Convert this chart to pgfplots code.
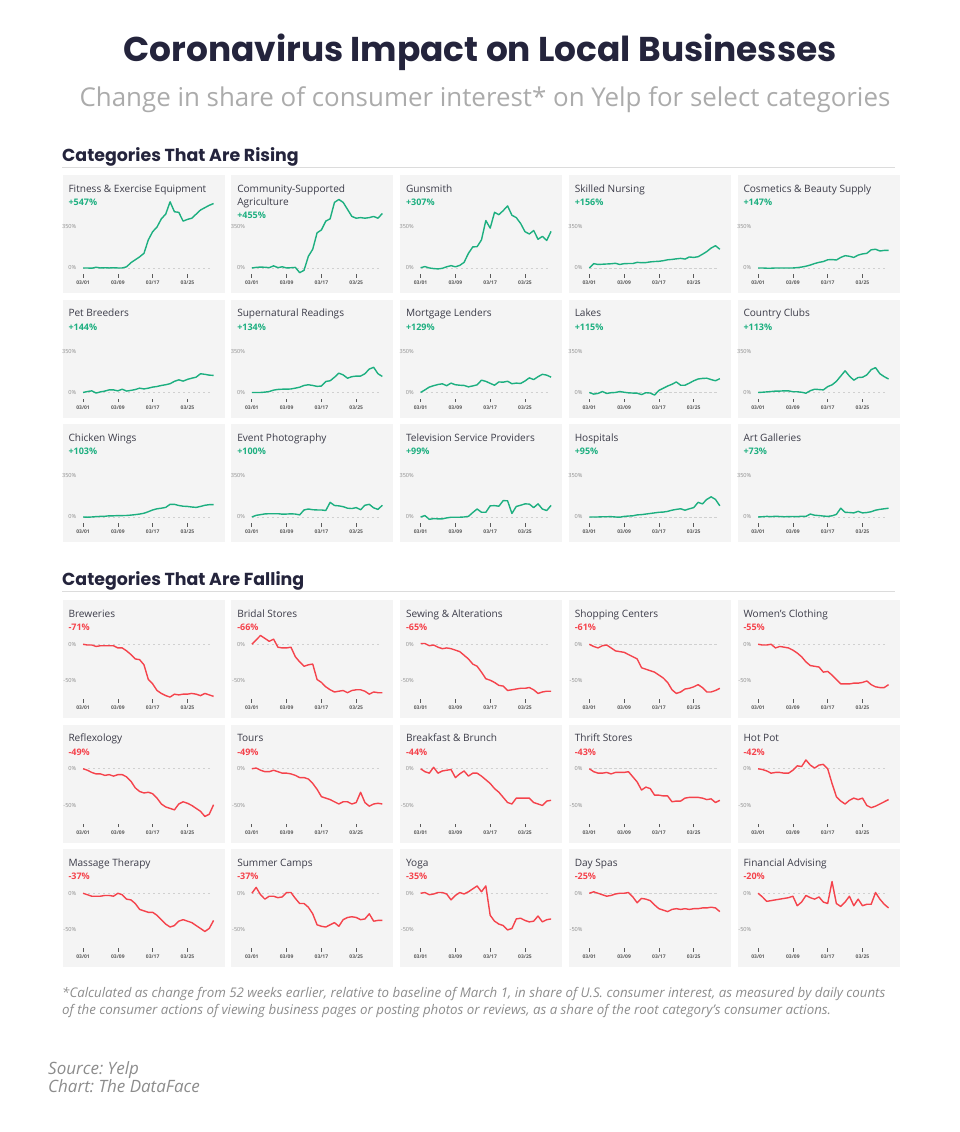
\documentclass[border=0pt]{standalone}
\usepackage{pgfplots}
\pgfplotsset{compat=1.18}
\usepackage{fontspec}
\setmainfont{Open Sans}
\newfontfamily\pop{Poppins}
\frenchspacing

\definecolor{risecol}{HTML}{1DAF80}
\definecolor{fallcol}{HTML}{F4434C}
\definecolor{cardbg}{HTML}{F4F4F4}
\definecolor{navy}{HTML}{24243C}
\definecolor{subgray}{HTML}{ABABAB}
\definecolor{rulegray}{HTML}{DCDCDC}
\definecolor{ptitle}{HTML}{3B3B48}
\definecolor{tickcol}{HTML}{5A5A5A}
\definecolor{ylabcol}{HTML}{8E8E8E}
\definecolor{zerocol}{HTML}{D0D0D0}
\definecolor{notecol}{HTML}{8C8C8C}

% one small panel: days 0..30 = 03/01..03/31
\pgfplotsset{
  spark/.style={
    scale only axis, width=134.85pt, xmin=-0.5, xmax=30.5,
    enlargelimits=false, clip=false, anchor=south west,
    axis x line*=bottom, axis y line*=left,
    x axis line style={draw=none}, y axis line style={draw=none},
    xtick={0,8,16,24}, xticklabels={03/01,03/09,03/17,03/25},
    tick align=outside, major tick length=3.4pt,
    xtick style={draw=tickcol, line width=0.7pt},
    ytick style={draw=none},
    xticklabel style={font=\fontsize{5}{5}\selectfont\bfseries, text=tickcol,
      inner sep=0pt, anchor=north, yshift=-3pt},
    yticklabel style={font=\fontsize{5.6}{5.6}\selectfont, text=ylabcol,
      inner sep=1pt, anchor=east},
  },
  rise/.style={spark, ymin=-54, ymax=600, height=76.6pt,
    ytick={0,350}, yticklabels={0\%,350\%}},
  fall/.style={spark, ymin=-75, ymax=20, height=69.73pt,
    ytick={-50,0}, yticklabels={-50\%,0\%}},
}

% #1 rise/fall, #2 card left, #3 card top, #4 title, #5 change, #6 baseline of change, #7 values
\newcommand{\spark}[7]{%
  \fill[cardbg] (#2pt,-#3pt) rectangle ++(162pt,-118pt);
  \node[anchor=base west, inner sep=0pt, text=ptitle, font=\fontsize{10.1}{12}\selectfont]
    at (#2pt+5.8pt,-#3pt-17pt) {#4};
  \node[anchor=base west, inner sep=0pt, text=#1col, font=\fontsize{9}{10}\selectfont\bfseries]
    at (#2pt+5.8pt,-#3pt-#6pt) {#5};
  \begin{axis}[#1, at={(#2pt+18.4pt,-#3pt-99.3pt)}]
    \addplot[zerocol, line width=0.6pt, dash pattern=on 2.2pt off 2.8pt] coordinates {(0,0) (29.7,0)};
    \addplot[#1col, line width=1.4pt, line join=round]
      table[row sep=\\, header=false, x expr=\coordindex, y index=0] {#7};
  \end{axis}
}

\begin{document}
\begin{tikzpicture}
\path[use as bounding box] (0,0) rectangle (960pt,-1132pt);

\node[anchor=base, inner sep=0pt, text=navy, font=\pop\bfseries\fontsize{34.4}{40}\selectfont]
  at (480pt,-62pt) {Coronavirus Impact on Local Businesses};
\node[anchor=base, inner sep=0pt, text=subgray, font=\fontsize{25.9}{30}\selectfont]
  at (485pt,-106pt) {Change in share of consumer interest* on Yelp for select categories};

\node[anchor=base west, inner sep=0pt, text=navy, font=\pop\bfseries\fontsize{17.4}{20}\selectfont]
  at (62pt,-161pt) {Categories That Are Rising};
\draw[rulegray, line width=0.8pt] (62pt,-167.5pt) -- (895pt,-167.5pt);
\node[anchor=base west, inner sep=0pt, text=navy, font=\pop\bfseries\fontsize{17.4}{20}\selectfont]
  at (62pt,-585pt) {Categories That Are Falling};
\draw[rulegray, line width=0.8pt] (62pt,-591.5pt) -- (895pt,-591.5pt);

% ---------------- rising ----------------
\spark{rise}{62.5}{175}{Fitness \& Exercise Equipment}{+547\%}{30.5}
 {0\\0\\-2\\6\\0\\2\\0\\2\\0\\0\\10\\45\\70\\95\\125\\240\\310\\350\\420\\460\\565\\480\\475\\400\\415\\425\\460\\495\\515\\535\\550\\}
\spark{rise}{231.25}{175}{Community-Supported}{+455\%}{43}
 {0\\5\\8\\6\\3\\18\\3\\10\\0\\2\\5\\-40\\-20\\100\\160\\300\\325\\400\\420\\560\\585\\560\\500\\440\\425\\430\\425\\430\\440\\425\\465\\}
\node[anchor=base west, inner sep=0pt, text=ptitle, font=\fontsize{10.1}{12}\selectfont]
  at (237.05pt,-205pt) {Agriculture};
\spark{rise}{400}{175}{Gunsmith}{+307\%}{30.5}
 {2\\12\\0\\-5\\-8\\-3\\10\\20\\10\\22\\48\\125\\180\\182\\240\\405\\340\\475\\455\\490\\530\\450\\430\\380\\310\\290\\320\\245\\270\\235\\313\\}
\spark{rise}{568.75}{175}{Skilled Nursing}{+156\%}{30.5}
 {0\\37\\30\\32\\34\\36\\40\\30\\37\\38\\38\\48\\45\\46\\52\\55\\57\\62\\70\\73\\78\\82\\76\\94\\90\\96\\117\\140\\170\\190\\160\\}
\spark{rise}{737.5}{175}{Cosmetics \& Beauty Supply}{+147\%}{30.5}
 {0\\0\\-2\\-2\\0\\0\\0\\0\\0\\3\\8\\15\\25\\38\\48\\55\\70\\72\\68\\90\\105\\100\\90\\110\\120\\125\\155\\160\\145\\150\\150\\}

\spark{rise}{62.5}{299.5}{Pet Breeders}{+144\%}{30.5}
 {0\\8\\14\\-5\\5\\12\\22\\22\\14\\28\\12\\18\\25\\37\\30\\37\\46\\51\\60\\66\\75\\95\\108\\97\\112\\122\\131\\160\\155\\148\\146\\}
\spark{rise}{231.25}{299.5}{Supernatural Readings}{+134\%}{30.5}
 {0\\0\\0\\3\\8\\20\\26\\28\\28\\30\\37\\45\\60\\66\\60\\52\\55\\94\\100\\130\\165\\150\\122\\135\\140\\140\\160\\200\\215\\160\\137\\}
\spark{rise}{400}{299.5}{Mortgage Lenders}{+129\%}{30.5}
 {0\\22\\46\\58\\68\\74\\58\\80\\66\\62\\60\\48\\56\\65\\105\\95\\78\\62\\90\\88\\96\\75\\80\\77\\98\\125\\110\\135\\155\\148\\131\\}
\spark{rise}{568.75}{299.5}{Lakes}{+115\%}{30.5}
 {0\\-14\\-8\\8\\-8\\-2\\0\\8\\2\\-3\\-5\\-6\\-18\\-2\\-5\\-22\\18\\36\\55\\70\\90\\62\\62\\80\\100\\115\\120\\122\\110\\100\\118\\}
\spark{rise}{737.5}{299.5}{Country Clubs}{+113\%}{30.5}
 {0\\2\\5\\8\\12\\12\\14\\14\\6\\6\\2\\-6\\15\\28\\25\\22\\50\\65\\95\\140\\185\\140\\105\\128\\130\\150\\195\\212\\160\\135\\115\\}

\spark{rise}{62.5}{424}{Chicken Wings}{+103\%}{30.5}
 {0\\-2\\0\\3\\5\\6\\10\\10\\12\\12\\13\\16\\20\\25\\32\\45\\60\\70\\75\\82\\108\\108\\98\\92\\90\\85\\82\\90\\100\\105\\106\\}
\spark{rise}{231.25}{424}{Event Photography}{+100\%}{30.5}
 {0\\14\\20\\26\\28\\28\\28\\24\\25\\27\\25\\18\\60\\68\\62\\60\\60\\55\\125\\98\\95\\88\\75\\72\\80\\62\\100\\108\\78\\65\\100\\}
\spark{rise}{400}{424}{Television Service Providers}{+99\%}{30.5}
 {0\\12\\-20\\-14\\-16\\-16\\-8\\-2\\-2\\-2\\0\\5\\38\\68\\40\\40\\95\\97\\92\\140\\138\\30\\90\\100\\112\\110\\80\\112\\68\\55\\99\\}
\spark{rise}{568.75}{424}{Hospitals}{+95\%}{30.5}
 {0\\0\\0\\2\\2\\3\\0\\-2\\5\\8\\10\\18\\20\\25\\30\\35\\40\\42\\48\\58\\65\\70\\58\\70\\80\\125\\112\\150\\172\\150\\95\\}
\spark{rise}{737.5}{424}{Art Galleries}{+73\%}{30.5}
 {0\\2\\5\\3\\6\\4\\2\\3\\4\\3\\6\\5\\25\\15\\12\\8\\5\\10\\22\\75\\40\\38\\35\\48\\35\\38\\45\\58\\65\\70\\75\\}

% ---------------- falling ----------------
\spark{fall}{62.5}{600}{Breweries}{-71\%}{30.5}
 {0\\-1\\-1\\-3\\-2\\-2\\-2\\-2\\-5\\-5\\-9\\-14\\-20\\-21\\-28\\-48\\-54\\-63\\-67\\-70\\-72\\-68\\-69\\-68\\-68\\-67\\-68\\-70\\-67\\-69\\-71\\}
\spark{fall}{231.25}{600}{Bridal Stores}{-66\%}{30.5}
 {0\\6\\12\\8\\4\\7\\-4\\-5\\-5\\-4\\-17\\-24\\-30\\-28\\-27\\-48\\-52\\-58\\-62\\-65\\-64\\-63\\-66\\-63\\-62\\-62\\-64\\-68\\-65\\-66\\-66\\}
\spark{fall}{400}{600}{Sewing \& Alterations}{-65\%}{30.5}
 {1\\1\\-2\\-1\\-4\\-6\\-5\\-6\\-8\\-10\\-15\\-20\\-27\\-30\\-38\\-47\\-49\\-52\\-56\\-57\\-63\\-62\\-61\\-60\\-60\\-59\\-62\\-67\\-65\\-64\\-64\\}
\spark{fall}{568.75}{600}{Shopping Centers}{-61\%}{30.5}
 {0\\-3\\-5\\-2\\-1\\-5\\-9\\-10\\-11\\-14\\-17\\-20\\-32\\-34\\-36\\-38\\-42\\-46\\-52\\-62\\-67\\-65\\-61\\-60\\-58\\-55\\-59\\-65\\-65\\-63\\-60\\}
\spark{fall}{737.5}{600}{Women's Clothing}{-55\%}{30.5}
 {0\\-1\\-1\\0\\-5\\-3\\-4\\-5\\-8\\-12\\-17\\-24\\-29\\-30\\-31\\-38\\-37\\-42\\-48\\-54\\-54\\-54\\-53\\-53\\-52\\-50\\-55\\-58\\-59\\-59\\-55\\}

\spark{fall}{62.5}{724.5}{Reflexology}{-49\%}{30.5}
 {0\\-2\\-5\\-7\\-7\\-9\\-8\\-10\\-8\\-8\\-11\\-17\\-26\\-31\\-33\\-32\\-34\\-40\\-48\\-52\\-54\\-56\\-48\\-45\\-47\\-50\\-54\\-58\\-65\\-62\\-49\\}
\spark{fall}{231.25}{724.5}{Tours}{-49\%}{30.5}
 {0\\1\\-2\\-4\\-4\\-2\\-4\\-6\\-6\\-7\\-9\\-12\\-12\\-14\\-20\\-28\\-38\\-40\\-42\\-45\\-48\\-45\\-45\\-48\\-46\\-32\\-46\\-51\\-48\\-47\\-48\\}
\spark{fall}{400}{724.5}{Breakfast \& Brunch}{-44\%}{30.5}
 {0\\-4\\-6\\2\\-6\\-3\\-2\\-1\\-12\\-7\\-3\\-10\\-6\\-6\\-10\\-15\\-20\\-27\\-32\\-39\\-46\\-48\\-40\\-40\\-40\\-40\\-46\\-48\\-50\\-44\\-43\\}
\spark{fall}{568.75}{724.5}{Thrift Stores}{-43\%}{30.5}
 {0\\-4\\-6\\-6\\-5\\-7\\-5\\-5\\-5\\-4\\-11\\-18\\-29\\-25\\-27\\-36\\-36\\-37\\-37\\-45\\-44\\-44\\-40\\-39\\-39\\-39\\-40\\-42\\-41\\-46\\-43\\}
\spark{fall}{737.5}{724.5}{Hot Pot}{-42\%}{30.5}
 {0\\-1\\-3\\-6\\-5\\-5\\-6\\-6\\-2\\4\\3\\12\\5\\1\\5\\6\\0\\-20\\-38\\-44\\-48\\-43\\-40\\-42\\-40\\-50\\-53\\-51\\-48\\-45\\-42\\}

\spark{fall}{62.5}{849}{Massage Therapy}{-37\%}{30.5}
 {0\\-2\\-4\\-4\\-4\\-3\\-3\\-4\\0\\-2\\-8\\-9\\-14\\-22\\-24\\-26\\-26\\-30\\-36\\-42\\-46\\-44\\-38\\-36\\-38\\-40\\-44\\-48\\-52\\-48\\-37\\}
\spark{fall}{231.25}{849}{Summer Camps}{-37\%}{30.5}
 {0\\8\\-2\\-8\\-4\\-4\\-6\\-5\\1\\1\\-7\\-14\\-14\\-19\\-28\\-43\\-45\\-46\\-43\\-40\\-45\\-36\\-33\\-32\\-33\\-36\\-35\\-28\\-38\\-37\\-37\\}
\spark{fall}{400}{849}{Yoga}{-35\%}{30.5}
 {0\\1\\-2\\-1\\1\\1\\-1\\-9\\-3\\1\\-1\\2\\6\\10\\2\\10\\-30\\-38\\-42\\-44\\-50\\-48\\-35\\-34\\-37\\-39\\-38\\-31\\-39\\-36\\-35\\}
\spark{fall}{568.75}{849}{Day Spas}{-25\%}{30.5}
 {0\\2\\0\\-2\\-4\\-3\\-1\\0\\0\\1\\-5\\-13\\-7\\-8\\-10\\-16\\-21\\-23\\-25\\-22\\-21\\-22\\-21\\-22\\-21\\-21\\-20\\-20\\-19\\-20\\-25\\}
\spark{fall}{737.5}{849}{Financial Advising}{-20\%}{30.5}
 {0\\-5\\-11\\-10\\-9\\-8\\-7\\-6\\-4\\-17\\-12\\-3\\-6\\-8\\-5\\-12\\-14\\16\\-14\\-18\\-12\\-4\\-17\\-8\\-17\\-15\\-15\\1\\-8\\-15\\-20\\}

% ---------------- notes ----------------
\node[anchor=base west, inner sep=0pt, text=notecol, font=\itshape\fontsize{13.3}{15}\selectfont]
  at (62pt,-997pt) {*Calculated as change from 52 weeks earlier, relative to baseline of March 1, in share of U.S. consumer interest, as measured by daily counts};
\node[anchor=base west, inner sep=0pt, text=notecol, font=\itshape\fontsize{13.3}{15}\selectfont]
  at (62pt,-1014pt) {of the consumer actions of viewing business pages or posting photos or reviews, as a share of the root category’s consumer actions.};
\node[anchor=base west, inner sep=0pt, text=notecol, font=\itshape\fontsize{17}{20}\selectfont]
  at (48pt,-1074pt) {Source: Yelp};
\node[anchor=base west, inner sep=0pt, text=notecol, font=\itshape\fontsize{17}{20}\selectfont]
  at (48pt,-1092pt) {Chart: The DataFace};
\end{tikzpicture}
\end{document}
